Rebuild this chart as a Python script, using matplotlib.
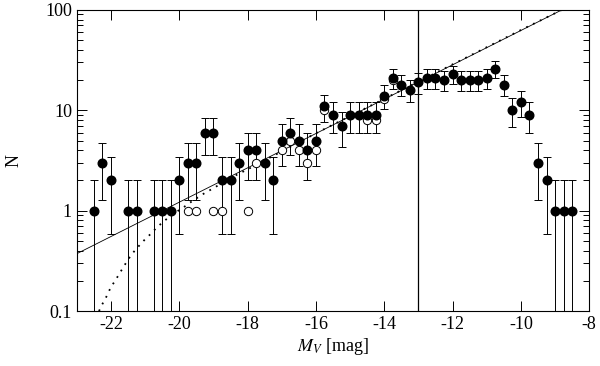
import matplotlib
matplotlib.use("Agg")
import matplotlib.pyplot as plt
from matplotlib.ticker import FixedLocator, LogLocator, NullFormatter

plt.rcParams['font.family'] = ['Liberation Serif', 'DejaVu Serif']
plt.rcParams['mathtext.fontset'] = 'stix'

# filled points: magnitude bin, counts, lower/upper bar ends
mv = [-22.5, -22.25, -22.0, -21.5, -21.25, -20.75, -20.5, -20.25, -20.0, -19.75,
      -19.5, -19.25, -19.0, -18.75, -18.5, -18.25, -18.0, -17.75, -17.5, -17.25,
      -17.0, -16.75, -16.5, -16.25, -16.0, -15.75, -15.5, -15.25, -15.0, -14.75,
      -14.5, -14.25, -14.0, -13.75, -13.5, -13.25, -13.0, -12.75, -12.5, -12.25,
      -12.0, -11.75, -11.5, -11.25, -11.0, -10.75, -10.5, -10.25, -10.0, -9.75,
      -9.5, -9.25, -9.0, -8.75, -8.5]
n = [1, 3, 2, 1, 1, 1, 1, 1, 2, 3,
     3, 6, 6, 2, 2, 3, 4, 4, 3, 2,
     5, 6, 5, 4, 5, 11, 9, 7, 9, 9,
     9, 9, 14, 21, 18, 16, 19, 21, 21, 20,
     23, 20, 20, 20, 21, 26, 18, 10, 12, 9,
     3, 2, 1, 1, 1]
n_lo = [0.01, 1.27, 0.59, 0.01, 0.01, 0.01, 0.01, 0.01, 0.59, 1.27,
        1.27, 3.55, 3.55, 0.59, 0.59, 1.27, 2.0, 2.0, 1.27, 0.59,
        2.76, 3.55, 2.76, 2.0, 2.76, 7.68, 6.0, 4.35, 6.0, 6.0,
        6.0, 6.0, 10.26, 16.42, 13.76, 12.0, 14.64, 16.42, 16.42, 15.53,
        18.2, 15.53, 15.53, 15.53, 16.42, 20.9, 13.76, 6.84, 8.54, 6.0,
        1.27, 0.59, 0.01, 0.01, 0.01]
n_hi = [2.0, 4.73, 3.41, 2.0, 2.0, 2.0, 2.0, 2.0, 3.41, 4.73,
        4.73, 8.45, 8.45, 3.41, 3.41, 4.73, 6.0, 6.0, 4.73, 3.41,
        7.24, 8.45, 7.24, 6.0, 7.24, 14.32, 12.0, 9.65, 12.0, 12.0,
        12.0, 12.0, 17.74, 25.58, 22.24, 20.0, 23.36, 25.58, 25.58, 24.47,
        27.8, 24.47, 24.47, 24.47, 25.58, 31.1, 22.24, 13.16, 15.46, 12.0,
        4.73, 3.41, 2.0, 2.0, 2.0]

# open points
mv_open = [-19.75, -19.5, -19.0, -18.75, -18.0, -17.75, -17.0, -16.75, -16.5,
           -16.25, -16.0, -15.75, -14.5, -14.25, -14.0, -13.75]
n_open = [1, 1, 1, 1, 1, 3, 4, 5, 4, 3, 4, 10, 8, 8, 13, 20]

# power law (solid) and model curve (dotted)
line_x = [-23.0, -8.8]
line_y = [0.373, 100.0]
curve_x = [-22.35, -22.26, -22.13, -22.0, -21.88, -21.74, -21.62, -21.49, -21.33,
           -21.17, -21.0, -20.83, -20.66, -20.46, -20.27, -20.07, -19.86, -19.66,
           -19.45, -19.24, -19.02, -18.5, -18.0, -17.0, -16.0, -13.0, -10.0, -8.8]
curve_y = [0.1, 0.116, 0.14, 0.174, 0.2, 0.24, 0.28, 0.33, 0.39,
           0.45, 0.52, 0.59, 0.68, 0.78, 0.88, 0.98, 1.09, 1.22,
           1.36, 1.51, 1.66, 2.12, 2.58, 3.9, 5.9, 19.3, 63.0, 100.0]

fig = plt.figure(figsize=(6.0, 3.66), dpi=100)
ax = fig.add_axes([0.128, 0.150, 0.854, 0.823])

ax.plot(line_x, line_y, color='k', lw=0.6)
ax.plot(curve_x, curve_y, color='k', lw=1.3, linestyle=(0, (1, 3.2)))
ax.axvline(-13.0, color='k', lw=0.9)

yerr = [[v - lo for v, lo in zip(n, n_lo)], [hi - v for v, hi in zip(n, n_hi)]]
ax.errorbar(mv, n, yerr=yerr, fmt='none', ecolor='k', elinewidth=0.7,
            capsize=3.2, capthick=0.7, zorder=2)
ax.plot(mv_open, n_open, 'o', mfc='white', mec='k', mew=0.7, ms=6, zorder=3)
ax.plot(mv, n, 'o', color='k', ms=6.2, zorder=4)

ax.set_yscale('log')
ax.set_xlim(-23, -8)
ax.set_ylim(0.1, 100)
ax.xaxis.set_major_locator(FixedLocator([-22, -20, -18, -16, -14, -12, -10, -8]))
ax.set_xticklabels(['-22', '-20', '-18', '-16', '-14', '-12', '-10', '-8'])
ax.yaxis.set_major_locator(FixedLocator([0.1, 1, 10, 100]))
ax.set_yticklabels(['0.1', '1', '10', '100'])
ax.yaxis.set_minor_locator(LogLocator(base=10, subs=range(2, 10)))
ax.yaxis.set_minor_formatter(NullFormatter())
ax.tick_params(which='both', direction='in', top=True, right=True, labelsize=13,
               width=0.7)
ax.tick_params(which='major', length=7)
ax.tick_params(which='minor', length=4)
for s in ax.spines.values():
    s.set_linewidth(0.8)

ax.set_xlabel('$M_V$ [mag]', fontsize=13, labelpad=2)
ax.set_ylabel('N', fontsize=13, labelpad=16)

fig.savefig('out.png', dpi=100)
